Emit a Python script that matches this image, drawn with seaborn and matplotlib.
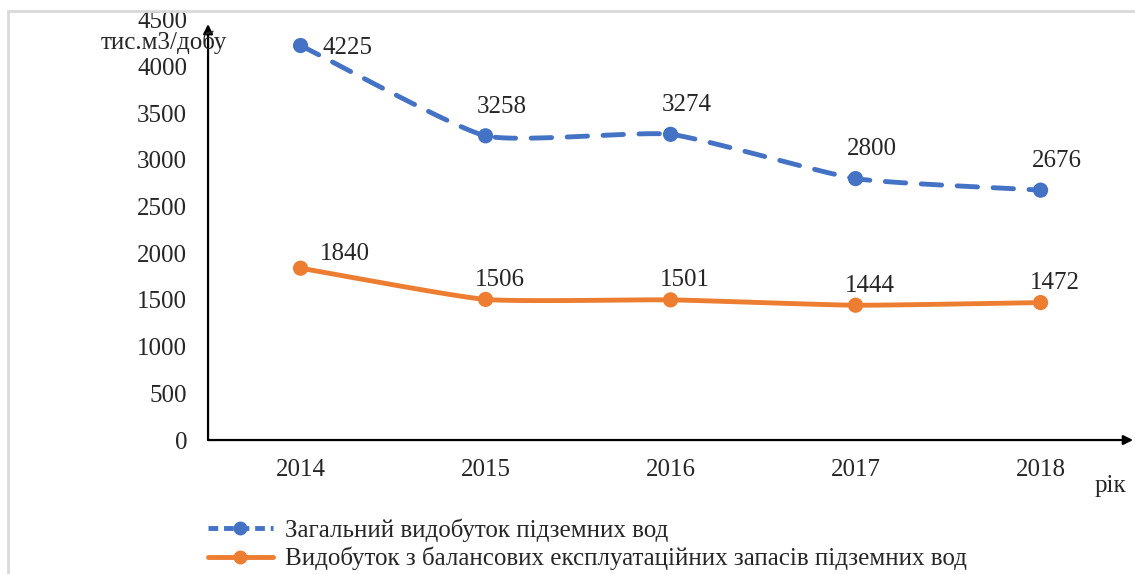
import numpy as np
import pandas as pd
import seaborn as sns
import matplotlib.pyplot as plt
from matplotlib.lines import Line2D

years = ['2014', '2015', '2016', '2017', '2018']
total = [4225, 3258, 3274, 2800, 2676]
balance = [1840, 1506, 1501, 1444, 1472]

label_total = 'Загальний видобуток підземних вод'
label_balance = 'Видобуток з балансових експлуатаційних запасів підземних вод'

blue = '#4472C4'
orange = '#ED7D31'

sns.set_theme(style='white')
plt.rcParams['font.family'] = ['Liberation Serif', 'DejaVu Serif']


# smoothed path through the points (like Excel "smoothed line")
def smooth_path(y, n=30, k=0.5):
    x = np.arange(len(y), dtype=float)
    y = np.asarray(y, dtype=float)
    # tangents (reduced tension)
    mx = np.gradient(x) * k
    my = np.gradient(y) * k
    my[0] = (y[1] - y[0]) * k
    my[-1] = (y[-1] - y[-2]) * k
    xs, ys = [], []
    t = np.linspace(0, 1, n)
    h00 = 2 * t ** 3 - 3 * t ** 2 + 1
    h10 = t ** 3 - 2 * t ** 2 + t
    h01 = -2 * t ** 3 + 3 * t ** 2
    h11 = t ** 3 - t ** 2
    for i in range(len(y) - 1):
        xs.extend(h00 * x[i] + h10 * mx[i] + h01 * x[i + 1] + h11 * mx[i + 1])
        ys.extend(h00 * y[i] + h10 * my[i] + h01 * y[i + 1] + h11 * my[i + 1])
    return np.array(xs), np.array(ys)


df = pd.DataFrame({'pos': np.arange(len(years)), 'total': total, 'balance': balance})

fig = plt.figure(figsize=(11.35, 5.74), dpi=100)
ax = fig.add_axes([0.1833, 0.2334, 0.815, 0.732])

sx, sy = smooth_path(total)
ax.plot(sx, sy, color=blue, lw=3.5, dashes=(4.2, 3.2), dash_capstyle='round')
sx, sy = smooth_path(balance)
ax.plot(sx, sy, color=orange, lw=3.5)

sns.scatterplot(data=df, x='pos', y='total', color=blue, s=120, edgecolor='none',
                ax=ax, zorder=3)
sns.scatterplot(data=df, x='pos', y='balance', color=orange, s=120, edgecolor='none',
                ax=ax, zorder=3)

for i, v in enumerate(total):
    if i == 0:
        ax.annotate(str(v), (i, v), xytext=(16, -2), textcoords='offset points',
                    fontsize=18, ha='left', va='center')
    else:
        ax.annotate(str(v), (i, v), xytext=(12, 21), textcoords='offset points',
                    fontsize=18, ha='center', va='center')
for i, v in enumerate(balance):
    if i == 0:
        ax.annotate(str(v), (i, v), xytext=(14, 10), textcoords='offset points',
                    fontsize=18, ha='left', va='center')
    else:
        ax.annotate(str(v), (i, v), xytext=(10, 14), textcoords='offset points',
                    fontsize=18, ha='center', va='center')

ax.set_xlim(-0.5, 4.5)
ax.set_ylim(0, 4500)
ax.set_yticks(np.arange(0, 4501, 500))
ax.set_xticks(df['pos'])
ax.set_xticklabels(years)
ax.tick_params(axis='both', labelsize=18, length=0)
ax.tick_params(axis='x', pad=14)
ax.tick_params(axis='y', pad=15)
ax.set_xlabel('')
ax.set_ylabel('')
sns.despine(ax=ax, top=True, right=True, left=True, bottom=True)

# axes with arrows
ax.annotate('', xy=(1.0, 0), xytext=(0, 0), xycoords='axes fraction',
            arrowprops=dict(arrowstyle='-|>', color='black', lw=1.6,
                            mutation_scale=14, shrinkA=0, shrinkB=0), annotation_clip=False)
ax.annotate('', xy=(0, 0.99), xytext=(0, 0), xycoords='axes fraction',
            arrowprops=dict(arrowstyle='-|>', color='black', lw=1.6,
                            mutation_scale=14, shrinkA=0, shrinkB=0), annotation_clip=False)

fig.text(164 / 1135, 1 - 42 / 574, 'тис.м3/добу', fontsize=18, ha='center', va='center')
fig.text(1110 / 1135, 1 - 486 / 574, 'рік', fontsize=18, ha='center', va='center')

handles = [Line2D([], [], color=blue, lw=3.5, dashes=(2.0, 1.2), marker='o', markersize=9),
           Line2D([], [], color=orange, lw=3.5, marker='o', markersize=9)]
fig.legend(handles, [label_total, label_balance], loc='lower left',
           bbox_to_anchor=(195 / 1135, -9 / 574), frameon=False, fontsize=18,
           handlelength=2.6, handletextpad=0.5, labelspacing=0.2, borderaxespad=0.1)

# light frame around the figure (top and left edges)
fig.add_artist(Line2D([8 / 1135, 1], [1 - 11 / 574, 1 - 11 / 574], color='#d9d9d9', lw=2))
fig.add_artist(Line2D([8 / 1135, 8 / 1135], [0, 1 - 11 / 574], color='#d9d9d9', lw=2))

fig.savefig('out.png', dpi=100)
